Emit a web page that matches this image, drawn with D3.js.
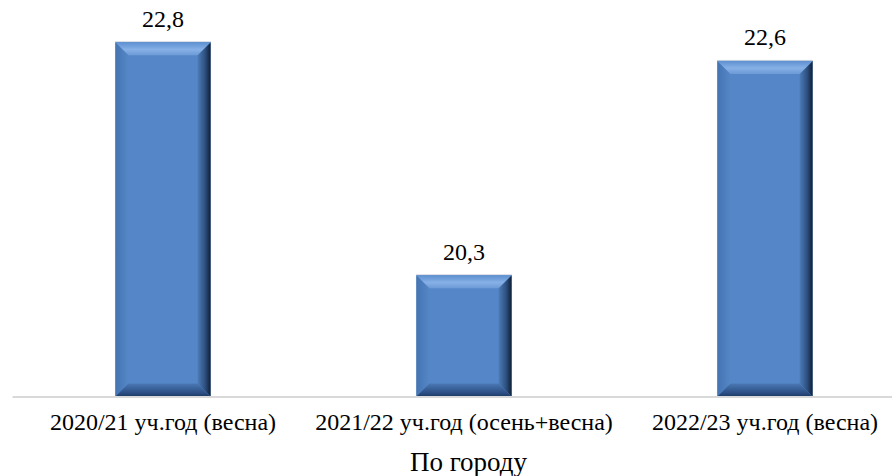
<!DOCTYPE html>
<html>
<head>
<meta charset="utf-8">
<script src="https://cdn.jsdelivr.net/npm/d3@7"></script>
<style>
@font-face { font-family: "ChartSerif"; src: local("Liberation Serif"), local("LiberationSerif"), local("LiberationSerif-Regular"), local("Tinos"), local("Times New Roman"); }
</style>
</head>
<body style="margin:0">
<svg id="chart" width="892" height="476" style="font-family: 'Liberation Serif', ChartSerif, Tinos, 'Times New Roman', serif"></svg>
<script>
const categories = ["2020/21 уч.год (весна)", "2021/22 уч.год (осень+весна)", "2022/23 уч.год (весна)"];
const values = [22.8, 20.3, 22.6];
const valueLabels = ["22,8", "20,3", "22,6"];
const axisTitle = "По городу";
const yDomain = [19, 23];

const W = 892, H = 476;
const FONT = "'Liberation Serif', ChartSerif, Tinos, 'Times New Roman', serif";
const svg = d3.select("#chart");

const x = d3.scaleBand()
  .domain(categories)
  .range([12.5, 915.5])
  .paddingInner(0.684)
  .paddingOuter(0.342);

const y = d3.scaleLinear().domain(yDomain).range([396.5, 23.6]);

const defs = svg.append("defs");
function lin(id, x1, y1, x2, y2, stops) {
  const g = defs.append("linearGradient").attr("id", id)
    .attr("x1", x1).attr("y1", y1).attr("x2", x2).attr("y2", y2);
  stops.forEach(s => g.append("stop").attr("offset", s[0]).attr("stop-color", s[1]));
}
lin("gTop", 0, 0, 0, 1, [[0, "#5d8fd0"], [0.55, "#86b0e6"], [1, "#6d9ad6"]]);
lin("gRight", 0, 0, 1, 0, [[0, "#4d7cb8"], [0.6, "#2c4e7d"], [1, "#0f1f36"]]);
lin("gBottom", 0, 0, 0, 1, [[0, "#4a78b3"], [0.7, "#2d5086"], [1, "#1e3a66"]]);
lin("gLeft", 0, 0, 1, 0, [[0, "#4474b2"], [1, "#5586c6"]]);

const bev = 13;
const bars = svg.append("g").selectAll("g.bar")
  .data(categories.map((c, i) => ({ c, v: values[i], l: valueLabels[i] })))
  .enter().append("g").attr("class", "bar");

bars.each(function(d) {
  const g = d3.select(this);
  const x0 = x(d.c), x1 = x(d.c) + x.bandwidth();
  const y0 = y(d.v), y1 = y(yDomain[0]);
  const bt = Math.min(bev, (y1 - y0) / 2);
  g.append("rect").attr("x", x0 - 0.5).attr("y", y0 - 1).attr("width", x1 - x0 + 1).attr("height", y1 - y0 + 1)
    .attr("fill", "#d0d6de");
  g.append("rect").attr("x", x0).attr("y", y0).attr("width", x1 - x0).attr("height", y1 - y0)
    .attr("fill", "#5587c8");
  const pts = a => a.map(p => p.join(",")).join(" ");
  g.append("polygon").attr("fill", "url(#gLeft)")
    .attr("points", pts([[x0, y0], [x0 + bev, y0 + bt], [x0 + bev, y1 - bt], [x0, y1]]));
  g.append("polygon").attr("fill", "url(#gRight)")
    .attr("points", pts([[x1, y0], [x1 - bev, y0 + bt], [x1 - bev, y1 - bt], [x1, y1]]));
  g.append("polygon").attr("fill", "url(#gTop)")
    .attr("points", pts([[x0, y0], [x1, y0], [x1 - bev, y0 + bt], [x0 + bev, y0 + bt]]));
  g.append("polygon").attr("fill", "url(#gBottom)")
    .attr("points", pts([[x0, y1], [x1, y1], [x1 - bev, y1 - bt], [x0 + bev, y1 - bt]]));
  g.append("text")
    .attr("x", (x0 + x1) / 2).attr("y", y0 - 15.5)
    .attr("text-anchor", "middle").attr("font-size", 24)
    .attr("font-family", FONT).style("font-family", FONT)
    .text(d.l);
});

svg.append("line")
  .attr("x1", x.range()[0]).attr("x2", W)
  .attr("y1", y(yDomain[0]) + 0.5).attr("y2", y(yDomain[0]) + 0.5)
  .attr("stroke", "#d9d9d9").attr("stroke-width", 2);

svg.append("g").selectAll("text").data(categories).enter().append("text")
  .attr("x", d => x(d) + x.bandwidth() / 2)
  .attr("y", 430)
  .attr("text-anchor", "middle").attr("font-size", 24)
  .attr("font-family", FONT).style("font-family", FONT)
  .text(d => d);

svg.append("text")
  .attr("x", 468.5).attr("y", 470.5)
  .attr("text-anchor", "middle").attr("font-size", 27)
  .attr("font-family", FONT).style("font-family", FONT)
  .text(axisTitle);
</script>
</body>
</html>
